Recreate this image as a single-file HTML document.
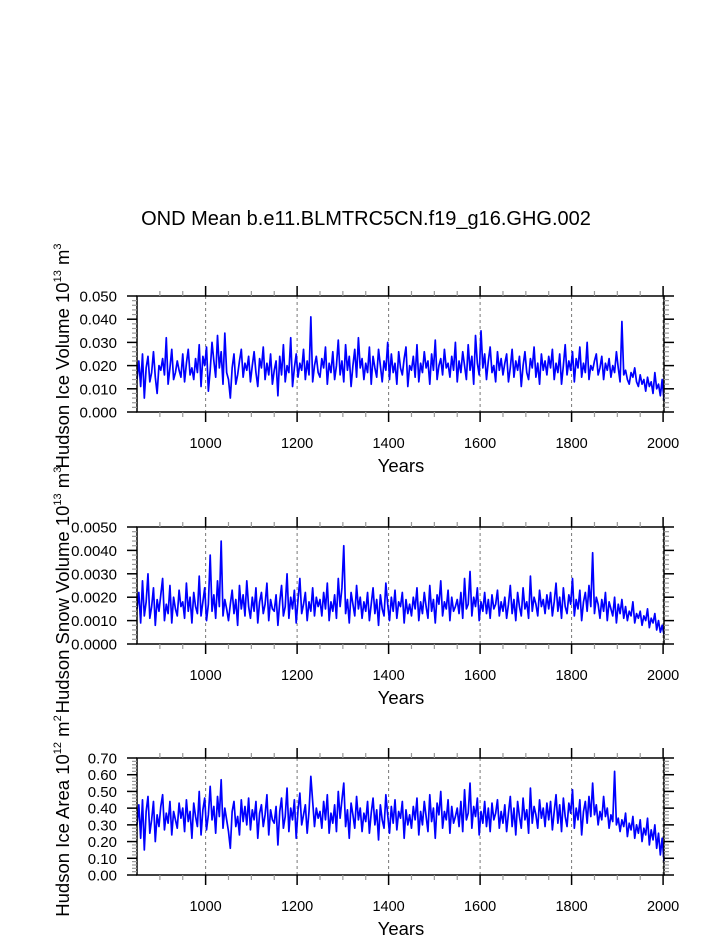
<!DOCTYPE html>
<html><head><meta charset="utf-8"><style>
html,body{margin:0;padding:0;background:#fff;}
svg{display:block;font-family:"Liberation Sans",sans-serif;}
</style></head><body>
<svg id="chart" width="723" height="935" viewBox="0 0 723 935" xmlns="http://www.w3.org/2000/svg">
<text x="366" y="225" font-size="20" text-anchor="middle">OND Mean b.e11.BLMTRC5CN.f19_g16.GHG.002</text>
</svg>
<script>
const yearStart = 850;
const yearStep = 4;
const xTickLabels = ["1000","1200","1400","1600","1800","2000"];
const iceVolUnit = 0.001;
const iceVol = [
14,22,11,25,6,19,24,13,17,26,15,8,20,18,23,16,32,12,19,27,14,17,22,18,15,
25,13,21,27,16,19,14,23,17,29,11,24,20,28,9,18,30,22,15,33,19,26,12,34,17,
14,6,19,25,12,16,22,27,15,21,18,24,13,20,26,17,11,23,19,28,14,21,16,25,12,
18,22,7,24,16,29,13,20,17,32,11,19,25,15,21,18,27,14,22,16,41,13,20,24,17,
15,23,19,28,12,21,17,26,14,20,31,16,22,13,29,18,24,11,20,27,15,32,19,23,14,
21,17,28,12,24,19,15,27,20,13,22,18,30,14,25,17,21,12,26,19,16,23,28,11,20,
18,24,15,29,13,21,17,26,19,22,12,25,18,31,14,20,23,16,27,19,21,15,24,18,30,
13,22,17,26,20,14,29,18,24,12,33,21,16,35,19,25,14,22,28,17,20,13,26,18,23,
16,21,25,13,19,27,15,22,18,24,11,20,26,17,14,23,19,28,15,21,12,25,18,22,16,
24,19,27,14,21,17,25,12,20,29,16,22,18,26,13,23,19,28,15,21,17,30,14,20,18,
22,25,16,19,24,14,21,18,23,15,20,17,26,19,13,39,16,18,14,12,17,15,19,13,11,
16,12,14,9,15,11,13,8,17,10,12,7,14,5];
const iceVolTicks = ["0.000","0.010","0.020","0.030","0.040","0.050"];
const snowUnit = 0.0001;
const snowVol = [
15,22,9,27,12,18,30,11,16,24,8,19,14,21,28,10,17,13,25,9,20,15,12,23,16,
18,11,26,14,20,9,22,16,13,29,12,18,24,10,17,38,14,21,11,27,16,44,12,19,15,
10,17,23,13,19,8,25,15,21,12,27,16,11,20,14,24,9,18,22,13,17,26,10,19,15,
14,21,8,18,25,12,16,30,11,20,15,23,9,19,28,13,17,22,10,18,14,24,12,20,16,
19,12,22,15,26,10,18,14,21,11,28,16,24,42,13,19,9,22,17,12,25,15,20,11,18,
14,22,10,17,24,13,19,8,21,15,12,26,17,10,20,14,23,11,18,16,22,9,19,13,17,
12,20,15,24,10,18,13,22,16,11,25,14,19,9,21,17,27,12,18,15,23,10,20,14,16,
19,13,22,11,28,15,17,31,12,20,16,24,10,18,14,22,13,19,11,21,15,17,23,12,18,
14,20,11,17,25,13,19,10,22,16,12,24,15,18,11,29,14,20,17,12,23,16,19,13,21,
15,22,12,18,26,14,20,11,24,16,13,21,17,28,12,19,15,23,10,18,22,14,25,16,39,
13,20,17,11,19,14,22,10,18,15,12,20,9,17,13,19,11,16,10,14,12,18,9,13,11,
14,8,12,10,15,7,11,9,13,6,10,5,8,4];
const snowTicks = ["0.0000","0.0010","0.0020","0.0030","0.0040","0.0050"];
const areaUnit = 0.01;
const iceArea = [
30,42,22,45,15,38,47,25,33,44,20,36,29,41,48,27,37,31,44,24,38,33,28,43,34,
40,26,45,32,38,22,43,35,29,50,24,39,46,27,36,53,33,41,25,47,35,57,28,40,33,
26,16,38,44,29,35,24,45,32,41,30,46,27,39,33,44,22,37,42,29,36,48,24,39,33,
31,41,18,38,46,28,35,52,26,40,33,45,22,39,49,30,36,42,25,38,59,44,29,40,34,
38,28,44,33,48,25,37,31,42,26,50,34,45,55,29,39,22,43,36,28,47,33,40,26,37,
32,44,25,37,46,30,39,21,42,33,28,48,36,25,41,31,45,27,38,34,44,22,39,30,36,
28,41,33,46,24,38,30,44,35,26,48,32,40,22,43,36,50,28,38,33,45,25,41,31,35,
40,29,44,26,51,33,37,55,28,41,35,46,24,38,31,44,29,40,26,43,33,37,45,28,38,
31,42,26,37,47,29,40,24,44,35,28,46,33,39,25,52,31,41,36,28,45,34,40,29,43,
33,44,27,38,48,31,42,26,46,35,29,43,37,51,28,40,33,45,24,38,44,31,47,35,55,
36,42,30,38,33,47,35,40,28,36,32,62,30,34,26,33,29,37,23,31,27,35,22,30,25,
33,20,28,24,34,18,27,21,30,16,25,12,22,8];
const areaTicks = ["0.00","0.10","0.20","0.30","0.40","0.50","0.60","0.70"];

const NS="http://www.w3.org/2000/svg";
const svg=document.getElementById('chart');
const X0=137,X1=664,YR0=850,YR1=2002;
function xs(yr){return X0+(yr-YR0)/(YR1-YR0)*(X1-X0);}
function mk(tag,attrs,parent){const e=document.createElementNS(NS,tag);for(const k in attrs)e.setAttribute(k,attrs[k]);(parent||svg).appendChild(e);return e;}

function panel(name,top,bottom,vals,unit,ticks,minorPer,titleMain,titleExp,titleUnit,unitExp,titleY){
  const g=mk('g',{});
  
  
  const vmax=parseFloat(ticks[ticks.length-1]);
  const ys=v=>bottom-(v/vmax)*(bottom-top);
  xTickLabels.forEach(t=>{
    const l=mk('line',{x1:xs(+t),x2:xs(+t),y1:top,y2:bottom,stroke:'#777','stroke-dasharray':'3,3','stroke-width':1},g);
    
    
  });
  let d='';
  vals.forEach((v,i)=>{d+=(i?'L':'M')+xs(yearStart+i*yearStep).toFixed(2)+','+ys(v*unit).toFixed(2);});
  const p=mk('path',{d:d,fill:'none',stroke:'#0000ff','stroke-width':1.7,'stroke-linejoin':'round'},g);
  
  
  const r=mk('rect',{x:X0,y:top,width:X1-X0,height:bottom-top,fill:'none',stroke:'#000','stroke-width':1.5},g);
  
  
  for(let yr=900;yr<=2000;yr+=50){
    const maj=yr%200===0, len=maj?10:5, col=maj?'#000':'#999';
    mk('line',{x1:xs(yr),x2:xs(yr),y1:bottom,y2:bottom+len,stroke:col,'stroke-width':maj?1.5:1.2},g);
    mk('line',{x1:xs(yr),x2:xs(yr),y1:top,y2:top-len,stroke:col,'stroke-width':maj?1.5:1.2},g);
  }
  xTickLabels.forEach(t=>{
    const tx=mk('text',{x:xs(+t),y:bottom+36,'font-size':14.5,'text-anchor':'middle'},g);
    tx.textContent=t;
    
    
  });
  const xt=mk('text',{x:401,y:bottom+60,'font-size':18.5,'text-anchor':'middle'},g);
  xt.textContent='Years';
  
  
  const n=ticks.length-1;
  for(let i=0;i<=n*minorPer;i++){
    const v=i/(n*minorPer)*vmax, y=ys(v), maj=i%minorPer===0, len=maj?10:5, col=maj?'#000':'#999';
    mk('line',{x1:X0,x2:X0-len,y1:y,y2:y,stroke:col,'stroke-width':maj?1.5:1.2},g);
    mk('line',{x1:X1,x2:X1+len,y1:y,y2:y,stroke:col,'stroke-width':maj?1.5:1.2},g);
  }
  ticks.forEach((t,i)=>{
    const tx=mk('text',{x:117,y:ys(parseFloat(t))+5.5,'font-size':15,'text-anchor':'end'},g);
    tx.textContent=t;
    
    
  });
  const yt=mk('text',{x:0,y:0,'font-size':18.5,'text-anchor':'middle',transform:'translate(69,'+titleY+') rotate(-90)'},g);
  
  
  const s1=mk('tspan',{},yt); s1.textContent=titleMain;
  const s2=mk('tspan',{dy:-8,'font-size':11},yt); s2.textContent=titleExp;
  const s3=mk('tspan',{dy:8},yt); s3.textContent=' '+titleUnit;
  const s4=mk('tspan',{dy:-8,'font-size':11},yt); s4.textContent=unitExp;
}
panel('ice-volume',296,412,iceVol,iceVolUnit,iceVolTicks,5,'Hudson Ice Volume 10','13','m','3',356);
panel('snow-volume',527,644,snowVol,snowUnit,snowTicks,5,'Hudson Snow Volume 10','13','m','3',590);
panel('ice-area',758,875,iceArea,areaUnit,areaTicks,5,'Hudson Ice Area 10','12','m','2',816);
</script>
</body></html>
